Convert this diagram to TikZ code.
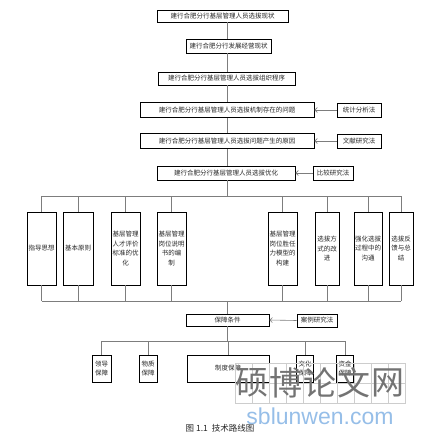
\documentclass[tikz,border=0pt]{standalone}
\usepackage{fontspec}
\newfontfamily\cjk{Noto Sans CJK SC}
\newfontfamily\cjkb[AutoFakeBold=3]{Noto Sans CJK SC}
\newfontfamily\wmlatin{Liberation Sans}
\usetikzlibrary{arrows.meta}
\definecolor{conn}{RGB}{125,125,125}
\definecolor{wmgray}{RGB}{115,115,115}
\definecolor{wmgrid}{RGB}{205,205,205}
\definecolor{wmblue}{RGB}{150,190,232}
\tikzset{
  box/.style={draw=black, line width=0.9pt, inner sep=0pt, align=center,
    font=\cjk\fontsize{6.5}{9.5}\selectfont, text=black!85},
  link/.style={draw=conn, line width=0.6pt},
  arr/.style={link, -{Straight Barb[length=2.5pt,width=5pt]}},
  wmbox/.style={draw=wmgrid, line width=0.5pt},
}
\begin{document}
\begin{tikzpicture}[x=1pt,y=-1pt]
\useasboundingbox (0,0) rectangle (424,438);
\coordinate (sp) at (227,0);
% main chain
\node[box, minimum width=131pt, minimum height=12pt] (b1) at (222.5,16) {建行合肥分行基层管理人员选拔现状};
\node[box, minimum width=85pt, minimum height=14pt] (b2) at (228.5,46) {建行合肥分行发展经营现状};
\node[box, minimum width=137pt, minimum height=13pt] (b3) at (226.5,78.5) {建行合肥分行基层管理人员选拔组织程序};
\node[box, minimum width=174pt, minimum height=15pt] (b4) at (227,110) {建行合肥分行基层管理人员选拔机制存在的问题};
\node[box, minimum width=174pt, minimum height=15pt] (b5) at (227,141) {建行合肥分行基层管理人员选拔问题产生的原因};
\node[box, minimum width=138pt, minimum height=14pt] (b6) at (226,173) {建行合肥分行基层管理人员选拔优化};
% methods
\node[box, minimum width=44pt, minimum height=14pt] (m1) at (359,110) {统计分析法};
\node[box, minimum width=44pt, minimum height=14pt] (m2) at (359,141) {文献研究法};
\node[box, minimum width=40pt, minimum height=14pt] (m3) at (333,173) {比较研究法};
\draw[link] (b1.south -| sp) -- (b2.north -| sp);
\draw[link] (b2.south -| sp) -- (b3.north -| sp);
\draw[link] (b3.south -| sp) -- (b4.north -| sp);
\draw[link] (b4.south -| sp) -- (b5.north -| sp);
\draw[link] (b5.south -| sp) -- (b6.north -| sp);
\draw[arr] (m1.west) -- (b4.east);
\draw[arr] (m2.west) -- (b5.east);
\draw[arr] (m3.west) -- (b6.east);
% eight measures
\coordinate (t) at (0,196);
\coordinate (bt) at (0,301);
\node[box, minimum width=29pt, minimum height=73pt] (r1) at (41.5,248.5) {指导思想};
\node[box, minimum width=30pt, minimum height=73pt] (r2) at (78,248.5) {基本原则};
\node[box, minimum width=29pt, minimum height=73pt] (r3) at (125.5,248.5) {基层管理\\人才评价\\标准的优\\化};
\node[box, minimum width=29pt, minimum height=73pt] (r4) at (171.5,248.5) {基层管理\\岗位说明\\书的编\\制};
\node[box, minimum width=29pt, minimum height=73pt] (r5) at (282.5,248.5) {基层管理\\岗位胜任\\力模型的\\构建};
\node[box, minimum width=24pt, minimum height=73pt] (r6) at (327,248.5) {选拔方\\式的改\\进};
\node[box, minimum width=28pt, minimum height=73pt] (r7) at (368,248.5) {强化选拔\\过程中的\\沟通};
\node[box, minimum width=24pt, minimum height=73pt] (r8) at (401,248.5) {选拔反\\馈与总\\结};
\draw[link] (r1.north |- t) -- (r8.north |- t);
\draw[link] (r1.south |- bt) -- (r8.south |- bt);
\draw[link] (b6.south -| sp) -- (sp |- t);
\foreach \r in {r1,r2,r3,r4,r5,r6,r7,r8}{
  \draw[link] (\r.north) -- (\r.north |- t);
  \draw[link] (\r.south) -- (\r.south |- bt);
}
% guarantees
\node[box, minimum width=83pt, minimum height=12pt] (g) at (227.5,320) {保障条件};
\node[box, minimum width=40pt, minimum height=13pt] (m4) at (317,320.5) {案例研究法};
\draw[link] (sp |- bt) -- (g.north -| sp);
\draw[arr] (m4.west) -- (g.east);
\coordinate (ct) at (0,341);
\node[box, minimum width=19pt, minimum height=27pt] (s1) at (101.5,368.5) {领导\\保障};
\node[box, minimum width=18pt, minimum height=27pt] (s2) at (148,368.5) {物质\\保障};
\node[box, minimum width=82pt, minimum height=27pt] (s3) at (228,368.5) {制度保障};
\node[box, minimum width=17pt, minimum height=27pt] (s4) at (305,368.5) {文化\\保障};
\node[box, minimum width=17pt, minimum height=27pt] (s5) at (345,368.5) {资金\\保障};
\draw[link] (g.south -| sp) -- (sp |- ct);
\draw[link] (s1.north |- ct) -- (s5.north |- ct);
\foreach \s in {s1,s2,s3,s4,s5}{
  \draw[link] (\s.north) -- (\s.north |- ct);
}
% caption
\node[font=\cjk\fontsize{8.5}{10}\selectfont, text=black!85] (cap) at (220,428) {图 1.1\ \ 技术路线图};
% watermark
\foreach \i/\c in {0/硕,1/博,2/论,3/文,4/网}{
  \draw[wmbox] (235+34*\i,363) rectangle (269+34*\i,403);
  \draw[wmbox] (252+34*\i,363) -- (252+34*\i,403);
  \draw[wmbox] (235+34*\i,383) -- (269+34*\i,383);
  \node[font=\cjkb\fontsize{33}{33}\selectfont, text=wmgray] (w\i) at (252+34*\i,383) {\c};
}
\node[font=\wmlatin\fontsize{23}{23}\selectfont, text=wmblue] (wm) at (320,416) {sblunwen.com};
\end{tikzpicture}
\end{document}
